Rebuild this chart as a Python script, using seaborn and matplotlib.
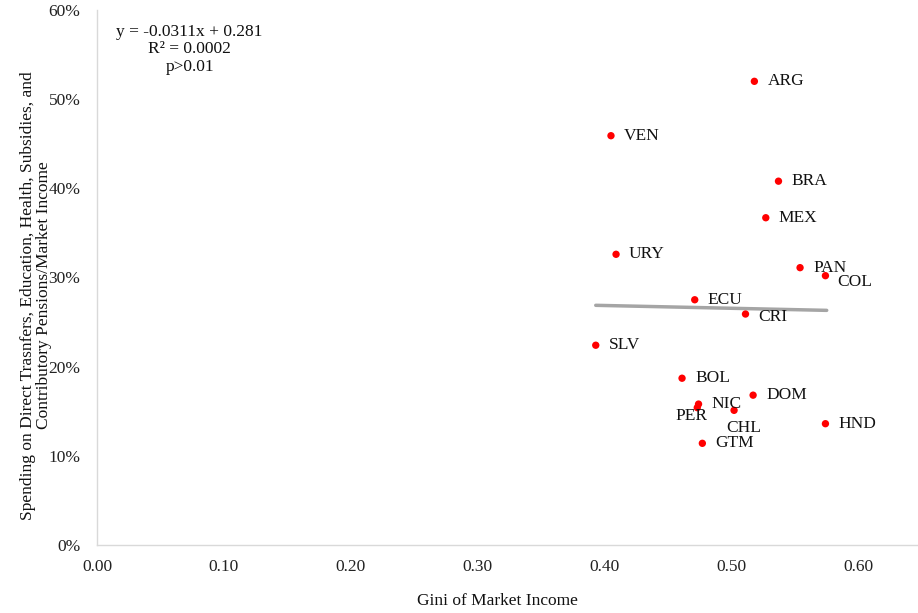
import matplotlib
matplotlib.use("Agg")
import matplotlib.pyplot as plt
import matplotlib.ticker as mticker
import numpy as np
import pandas as pd
import seaborn as sns

# Country data: Gini of market income vs. social spending share of market income
countries = ["ARG", "VEN", "BRA", "MEX", "URY", "PAN", "COL", "ECU", "CRI",
             "SLV", "BOL", "DOM", "NIC", "PER", "CHL", "HND", "GTM"]
gini = [0.518, 0.405, 0.537, 0.527, 0.409, 0.554, 0.574, 0.471, 0.511,
        0.393, 0.461, 0.517, 0.474, 0.473, 0.502, 0.574, 0.477]
spending = [0.520, 0.459, 0.408, 0.367, 0.326, 0.311, 0.302, 0.275, 0.259,
            0.224, 0.187, 0.168, 0.158, 0.154, 0.151, 0.136, 0.114]

# Linear trend reported on the chart
slope, intercept = -0.0311, 0.281
trend_x = [0.393, 0.575]

x_ticks = [0.0, 0.1, 0.2, 0.3, 0.4, 0.5, 0.6]
y_ticks = [0.0, 0.1, 0.2, 0.3, 0.4, 0.5, 0.6]

# Label placement (pixel offsets from each point, horizontal alignment)
label_pos = {
    "COL": (12, -6, "left"),
    "CRI": (13, -3, "left"),
    "PER": (-6, -8, "center"),
    "CHL": (-8, -18, "left"),
}

df = pd.DataFrame({"country": countries, "gini": gini, "spending": spending})

sns.set_theme(style="white")
plt.rcParams["font.family"] = ["Liberation Serif", "DejaVu Serif"]

FS = 12.5
fig = plt.figure(figsize=(9.18, 6.13), dpi=100)
ax = fig.add_axes([0.1057, 0.111, 0.893, 0.8727])

trend_y = [slope * v + intercept for v in trend_x]
sns.lineplot(x=trend_x, y=trend_y, ax=ax, color="#A5A5A5", linewidth=2.5)
sns.scatterplot(data=df, x="gini", y="spending", ax=ax, color="#FF0000",
                s=28, edgecolor="none", zorder=3)

for c, xv, yv in zip(countries, gini, spending):
    dx, dy, ha = label_pos.get(c, (13, 0, "left"))
    ax.annotate(c, (xv, yv), xytext=(dx, dy), textcoords="offset pixels",
                ha=ha, va="center", fontsize=FS, color="#111111")

ax.text(0.073, 0.556, "y = -0.0311x + 0.281\nR² = 0.0002\np>0.01",
        ha="center", va="center", multialignment="center", fontsize=FS,
        linespacing=1.12, color="#111111")

ax.set_xlim(0, 0.646)
ax.set_ylim(0, 0.6)
ax.set_xticks(x_ticks)
ax.set_yticks(y_ticks)
ax.xaxis.set_major_formatter(mticker.FormatStrFormatter("%.2f"))
ax.yaxis.set_major_formatter(mticker.PercentFormatter(1.0, decimals=0))
ax.tick_params(axis="both", length=0, labelsize=FS, colors="#222222")
ax.tick_params(axis="x", pad=10)
ax.tick_params(axis="y", pad=12)

for side in ["top", "right"]:
    ax.spines[side].set_visible(False)
for side in ["left", "bottom"]:
    ax.spines[side].set_color("#D9D9D9")
    ax.spines[side].set_linewidth(1.0)

ax.set_xlabel("Gini of Market Income", fontsize=FS, color="#111111",
              ha="center", va="center")
ax.xaxis.set_label_coords(0.488, -0.105)
ax.set_ylabel("Spending on Direct Trasnfers, Education, Health, Subsidies, and\n"
              "Contributory Pensions/Market Income", fontsize=FS,
              color="#111111", linespacing=0.95, ha="center", va="center")
ax.yaxis.set_label_coords(-0.0744, 0.467)

fig.savefig("out.png", dpi=100)
